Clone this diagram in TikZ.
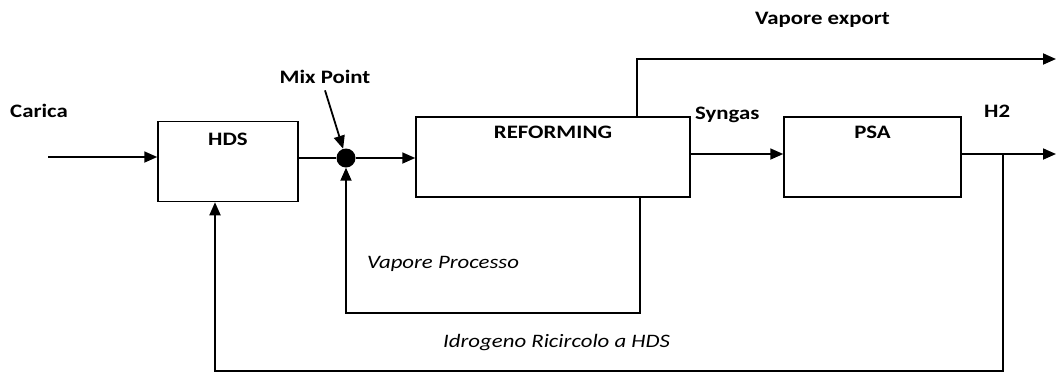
\documentclass[tikz,border=0pt]{standalone}
\usepackage{fontspec}
\setmainfont[FakeStretch=1.2]{Carlito}
\usepackage{tikz}
\usetikzlibrary{arrows.meta,positioning}

\begin{document}
\begin{tikzpicture}[
  x=1pt,y=-1pt,
  font=\fontsize{19}{22}\selectfont,
  unit/.style={draw,line width=1.5pt,minimum height=80pt,inner sep=0pt},
  tag/.style={font=\fontsize{19}{22}\selectfont\bfseries,inner sep=0pt},
  note/.style={font=\fontsize{19}{22}\selectfont\itshape,inner sep=0pt},
  dot/.style={circle,fill,minimum size=19pt,inner sep=0pt},
  pipe/.style={line width=1.8pt},
  flow/.style={-{Triangle[length=13pt,width=11pt]},line width=1.8pt},
]
\useasboundingbox (0,0) rectangle (1057,373);

% units
\node[unit,minimum width=140pt] (hds) at (228,161.5) {};
\node[unit,minimum width=274pt] (ref) at (553,157) {};
\node[unit,minimum width=177pt] (psa) at (872.5,157) {};
\node[dot] (mix) at (346,158) {};

\node[tag,anchor=base] (hdstxt) at (228,145) {HDS};
\node[tag,anchor=base] (reftxt) at (553,138) {REFORMING};
\node[tag,anchor=base] (psatxt) at (872.5,138) {PSA};

% stream labels
\node[tag,anchor=base west] (carica) at (10,117) {Carica};
\node[tag,anchor=base] (mixtxt) at (325,83) {Mix Point};
\node[tag,anchor=base west] (syngas) at (695,119) {Syngas};
\node[tag,anchor=base west] (htwo) at (984,117) {H2};
\node[tag,anchor=base west] (export) at (755,24) {Vapore export};
\node[note,anchor=base west] (processo) at (367,268) {Vapore Processo};
\node[note,anchor=base west] (ricircolo) at (443,347) {Idrogeno Ricircolo a HDS};

% free ends and bends
\coordinate (feed) at (48,157);
\coordinate (vx) at (637,59);
\coordinate (vout) at (1056,59);
\coordinate (vp) at (640,313);
\coordinate (hout) at (1056,154);
\coordinate (br) at (1003,154);
\coordinate (rc) at (1003,371);
\coordinate (hin) at (215,371);

\draw[flow] (feed) -- (feed -| hds.west);
\draw[pipe] (hds.east |- mix) -- (mix);
\draw[flow] (mix) -- (mix -| ref.west);
\draw[flow] ([yshift=-7pt]mixtxt.south) -- (mix);
\draw[flow] ([yshift=3pt]ref.east) -- ([yshift=3pt]psa.west);
\draw[flow] ([yshift=3pt]psa.east) -- (hout);
\draw[flow] (ref.north -| vx) -- (vx) -- (vout);
\draw[flow] (ref.south -| vp) -- (vp) -- (vp -| mix) -- (mix);
\draw[flow] (br) -- (rc) -- (hin) -- (hds.south -| hin);
\end{tikzpicture}
\end{document}
